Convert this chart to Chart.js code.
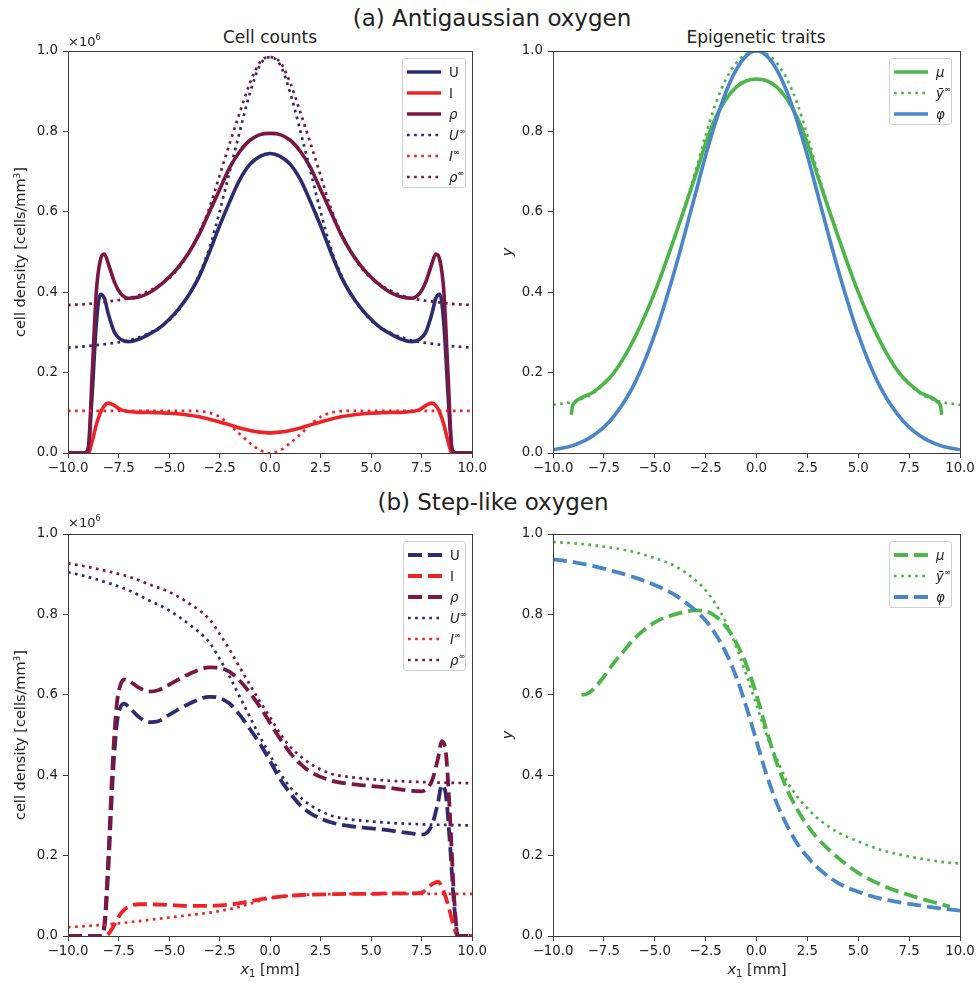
<!DOCTYPE html>
<html lang="en">
<head>
<meta charset="utf-8">
<title>Antigaussian and step-like oxygen</title>
<script src="https://cdn.jsdelivr.net/npm/chart.js@4.4.1/dist/chart.umd.min.js"></script>
<style>
  body { margin: 0; background: #fff; font-family: "DejaVu Sans", sans-serif; color: #222; }
  #page { position: relative; width: 980px; height: 986px; overflow: hidden; }
  canvas { position: absolute; }
  .txt { position: absolute; white-space: nowrap; transform: translate(-50%, -50%); }
  .suptitle { font-size: 23px; }
  .title { font-size: 17px; }
  .lab { font-size: 14.5px; }
  .rot { transform: translate(-50%, -50%) rotate(-90deg); }
  .mult { position: absolute; font-size: 13px; transform: translate(0, -50%); }
  .mult sup, .legend sup { font-size: 8px; }
  .legend { position: absolute; border: 1px solid #d0d0d0; border-radius: 3px; background: rgba(255,255,255,0.85); box-sizing: border-box; }
  .legend .row { position: absolute; left: 0; height: 20px; width: 100%; }
  .legend svg { position: absolute; left: 4px; top: 0; }
  .legend span { position: absolute; left: 46px; top: 50%; transform: translateY(-50%); font-size: 13.3px; }
</style>
</head>
<body>
<div id="page">
  <div class="txt suptitle" style="left:492px; top:18px;">(a) Antigaussian oxygen</div>
  <div class="txt suptitle" style="left:493px; top:502px;">(b) Step-like oxygen</div>
  <div class="txt title" style="left:270px; top:37px;">Cell counts</div>
  <div class="txt title" style="left:756px; top:37px;">Epigenetic traits</div>

  <canvas id="cA" width="490" height="460" style="left:0; top:30px;"></canvas>
  <canvas id="cB" width="490" height="460" style="left:490px; top:30px;"></canvas>
  <canvas id="cC" width="490" height="474" style="left:0; top:512px;"></canvas>
  <canvas id="cD" width="490" height="474" style="left:490px; top:512px;"></canvas>

  <div class="mult" style="left:68px; top:41px;">×10<sup>6</sup></div>
  <div class="mult" style="left:68px; top:522px;">×10<sup>6</sup></div>
  <div class="txt lab rot" style="left:20px; top:252px;">cell density [cells/mm<sup style="font-size:9px">3</sup>]</div>
  <div class="txt lab rot" style="left:20px; top:735px;">cell density [cells/mm<sup style="font-size:9px">3</sup>]</div>
  <div class="txt lab rot" style="left:507px; top:252px;"><i>y</i></div>
  <div class="txt lab rot" style="left:507px; top:735px;"><i>y</i></div>
  <div class="txt lab" style="left:270px; top:970px;"><i>x</i><sub style="font-size:10px">1</sub> [mm]</div>
  <div class="txt lab" style="left:757px; top:970px;"><i>x</i><sub style="font-size:10px">1</sub> [mm]</div>
</div>
<script>
// ticks
const xTicks = [-10, -7.5, -5, -2.5, 0, 2.5, 5, 7.5, 10];
const yTicks = [0, 0.2, 0.4, 0.6, 0.8, 1.0];

// (a) antigaussian, cell counts
const aX = [-10, -9.2, -9.0, -8.8, -8.6, -8.4, -8.2, -8.0, -7.7, -7.4, -7.0, -6.5, -6.0, -5.5, -5.0, -4.5, -4.0, -3.5, -3.0, -2.5, -2.0, -1.5, -1.0, -0.5, 0,
            0.5, 1.0, 1.5, 2.0, 2.5, 3.0, 3.5, 4.0, 4.5, 5.0, 5.5, 6.0, 6.5, 7.0, 7.4, 7.7, 8.0, 8.2, 8.4, 8.6, 8.8, 9.0, 9.2, 10];
const aU = [0, 0, 0.01, 0.15, 0.32, 0.395, 0.385, 0.345, 0.30, 0.283, 0.277, 0.283, 0.295, 0.31, 0.332, 0.36, 0.395, 0.44, 0.50, 0.565, 0.625, 0.68, 0.718, 0.738, 0.745,
            0.738, 0.718, 0.68, 0.625, 0.565, 0.50, 0.44, 0.395, 0.36, 0.332, 0.31, 0.295, 0.283, 0.277, 0.283, 0.30, 0.345, 0.385, 0.395, 0.32, 0.15, 0.01, 0, 0];
const aI = [0, 0, 0, 0.03, 0.07, 0.10, 0.118, 0.124, 0.118, 0.108, 0.103, 0.101, 0.101, 0.100, 0.099, 0.097, 0.094, 0.090, 0.084, 0.077, 0.070, 0.062, 0.056, 0.052, 0.050,
            0.052, 0.056, 0.062, 0.070, 0.077, 0.084, 0.090, 0.094, 0.097, 0.099, 0.100, 0.101, 0.101, 0.103, 0.108, 0.118, 0.124, 0.118, 0.10, 0.07, 0.03, 0, 0, 0];
const aRho = [0, 0, 0.01, 0.2, 0.4, 0.48, 0.495, 0.47, 0.425, 0.397, 0.385, 0.388, 0.398, 0.415, 0.437, 0.465, 0.50, 0.545, 0.60, 0.655, 0.71, 0.75, 0.778, 0.792, 0.795,
              0.792, 0.778, 0.75, 0.71, 0.655, 0.60, 0.545, 0.50, 0.465, 0.437, 0.415, 0.398, 0.388, 0.385, 0.397, 0.425, 0.47, 0.495, 0.48, 0.4, 0.2, 0.01, 0, 0];
const aXinf = [-10, -9, -8, -7, -6, -5, -4.5, -4, -3.5, -3, -2.5, -2, -1.5, -1, -0.5, 0, 0.5, 1, 1.5, 2, 2.5, 3, 3.5, 4, 4.5, 5, 6, 7, 8, 9, 10];
const aUinf = [0.262, 0.266, 0.272, 0.28, 0.298, 0.33, 0.358, 0.395, 0.445, 0.51, 0.60, 0.70, 0.80, 0.895, 0.965, 0.985,
               0.965, 0.895, 0.80, 0.70, 0.60, 0.51, 0.445, 0.395, 0.358, 0.33, 0.298, 0.28, 0.272, 0.266, 0.262];
const aIinf = [0.105, 0.105, 0.105, 0.105, 0.105, 0.105, 0.105, 0.105, 0.104, 0.1, 0.09, 0.07, 0.047, 0.025, 0.007, 0.0,
               0.007, 0.025, 0.047, 0.07, 0.09, 0.1, 0.104, 0.105, 0.105, 0.105, 0.105, 0.105, 0.105, 0.105, 0.105];
const aRhoinf = [0.368, 0.371, 0.377, 0.385, 0.403, 0.435, 0.462, 0.5, 0.549, 0.61, 0.69, 0.77, 0.847, 0.92, 0.972, 0.985,
                 0.972, 0.92, 0.847, 0.77, 0.69, 0.61, 0.549, 0.5, 0.462, 0.435, 0.403, 0.385, 0.377, 0.371, 0.368];

// (a) antigaussian, traits
const aTX = [-10, -9, -8, -7, -6, -5, -4, -3, -2.5, -2, -1.5, -1, -0.5, 0, 0.5, 1, 1.5, 2, 2.5, 3, 4, 5, 6, 7, 8, 9, 10];
const aPhi = [0.008, 0.019, 0.044, 0.092, 0.172, 0.295, 0.458, 0.645, 0.74, 0.825, 0.898, 0.953, 0.988, 1.0,
              0.988, 0.953, 0.898, 0.825, 0.74, 0.645, 0.458, 0.295, 0.172, 0.092, 0.044, 0.019, 0.008];
const aYinf = [0.12, 0.128, 0.15, 0.2, 0.285, 0.40, 0.54, 0.70, 0.79, 0.87, 0.93, 0.97, 0.993, 1.0,
               0.993, 0.97, 0.93, 0.87, 0.79, 0.70, 0.54, 0.40, 0.285, 0.2, 0.15, 0.128, 0.12];
const aMuX = [-9.1, -9.05, -8.9, -8, -7, -6, -5, -4, -3, -2.5, -2, -1.5, -1, -0.5, 0, 0.5, 1, 1.5, 2, 2.5, 3, 4, 5, 6, 7, 8, 8.9, 9.05, 9.1];
const aMu = [0.095, 0.115, 0.127, 0.152, 0.2, 0.285, 0.40, 0.54, 0.69, 0.77, 0.835, 0.88, 0.91, 0.926, 0.93,
             0.926, 0.91, 0.88, 0.835, 0.77, 0.69, 0.54, 0.40, 0.285, 0.2, 0.152, 0.127, 0.115, 0.095];

// (b) step-like, cell counts
const bX = [-10, -8.4, -8.2, -8.0, -7.8, -7.6, -7.4, -7.2, -7.0, -6.5, -6.0, -5.5, -5.0, -4.0, -3.0, -2.5, -2.0, -1.5, -1.0, -0.5, 0,
            0.5, 1.0, 1.5, 2.0, 3.0, 4.0, 5.0, 6.0, 7.0, 7.5, 8.0, 8.3, 8.5, 8.7, 8.9, 9.1, 9.3, 10];
const bU = [0, 0, 0.02, 0.17, 0.38, 0.52, 0.57, 0.578, 0.57, 0.545, 0.532, 0.535, 0.55, 0.578, 0.595, 0.592, 0.578, 0.55, 0.515, 0.478, 0.435,
            0.39, 0.355, 0.325, 0.305, 0.283, 0.273, 0.268, 0.262, 0.255, 0.252, 0.275, 0.33, 0.375, 0.35, 0.23, 0.08, 0, 0];
const bI = [0, 0, 0, 0.005, 0.02, 0.038, 0.055, 0.066, 0.073, 0.079, 0.079, 0.078, 0.077, 0.075, 0.075, 0.076, 0.078, 0.082, 0.086, 0.091, 0.095,
            0.098, 0.1, 0.102, 0.103, 0.104, 0.105, 0.105, 0.106, 0.106, 0.108, 0.128, 0.135, 0.122, 0.095, 0.06, 0.02, 0, 0];
const bRho = [0, 0, 0.03, 0.2, 0.42, 0.57, 0.625, 0.638, 0.635, 0.618, 0.608, 0.612, 0.625, 0.652, 0.668, 0.667, 0.657, 0.635, 0.605, 0.57, 0.53,
              0.49, 0.455, 0.428, 0.408, 0.387, 0.378, 0.373, 0.368, 0.361, 0.36, 0.385, 0.44, 0.485, 0.455, 0.3, 0.1, 0, 0];
const bXinf = [-10, -9, -8, -7, -6, -5, -4, -3, -2.5, -2, -1.5, -1, -0.5, 0, 0.5, 1, 1.5, 2, 3, 4, 5, 6, 7, 8, 9, 10];
const bUinf = [0.905, 0.893, 0.878, 0.86, 0.835, 0.81, 0.775, 0.73, 0.69, 0.645, 0.595, 0.545, 0.495, 0.45, 0.405, 0.37, 0.345, 0.325,
               0.3, 0.29, 0.285, 0.281, 0.279, 0.277, 0.276, 0.275];
const bIinf = [0.022, 0.025, 0.029, 0.034, 0.04, 0.046, 0.052, 0.058, 0.062, 0.067, 0.073, 0.08, 0.088, 0.094, 0.098, 0.1, 0.102, 0.103,
               0.104, 0.105, 0.105, 0.105, 0.105, 0.105, 0.105, 0.105];
const bRhoinf = [0.927, 0.918, 0.907, 0.894, 0.875, 0.856, 0.827, 0.788, 0.752, 0.712, 0.668, 0.625, 0.583, 0.544, 0.503, 0.47, 0.447, 0.428,
                 0.404, 0.395, 0.39, 0.386, 0.384, 0.382, 0.381, 0.38];

// (b) step-like, traits
const bTX = [-10, -9, -8, -7, -6, -5, -4, -3, -2.5, -2, -1.5, -1, -0.5, 0, 0.5, 1, 1.5, 2, 2.5, 3, 4, 5, 6, 7, 8, 9, 10];
const bPhi = [0.937, 0.93, 0.92, 0.907, 0.892, 0.873, 0.848, 0.81, 0.785, 0.75, 0.705, 0.645, 0.57, 0.485, 0.40, 0.33, 0.275, 0.23,
              0.197, 0.17, 0.132, 0.11, 0.094, 0.084, 0.076, 0.069, 0.063];
const bYinf = [0.98, 0.977, 0.972, 0.965, 0.955, 0.94, 0.92, 0.885, 0.86, 0.825, 0.78, 0.72, 0.65, 0.575, 0.5, 0.44, 0.385, 0.347,
               0.318, 0.293, 0.258, 0.235, 0.216, 0.203, 0.193, 0.185, 0.18];
const bMuX = [-8.6, -8.3, -8, -7.5, -7, -6.5, -6, -5, -4, -3, -2.5, -2, -1.5, -1, -0.5, 0, 0.5, 1, 1.5, 2, 2.5, 3, 4, 5, 6, 7, 8, 9, 9.5];
const bMu = [0.6, 0.603, 0.615, 0.645, 0.68, 0.71, 0.74, 0.78, 0.80, 0.81, 0.808, 0.795, 0.77, 0.73, 0.675, 0.6, 0.51, 0.43, 0.365, 0.315,
             0.275, 0.243, 0.195, 0.157, 0.13, 0.11, 0.094, 0.08, 0.073];

const C = { U: '#2d2c6e', I: '#ee2328', rho: '#7a1742', mu: '#4cb648', phi: '#4a86c8' };
const STY = {
  solid:  { borderWidth: 3.6, borderDash: [] },
  dotted: { borderWidth: 2.7, borderDash: [2.7, 4.4] },
  dashed: { borderWidth: 3.8, borderDash: [14, 6] }
};

function ds(label, xs, ys, color, style, i, n) {
  return Object.assign({
    label: label,
    data: xs.map((x, k) => ({ x: x, y: ys[k] })),
    borderColor: color,
    pointRadius: 0,
    fill: false,
    cubicInterpolationMode: 'monotone',
    borderCapStyle: 'butt',
    borderJoinStyle: 'round',
    order: n - i
  }, STY[style]);
}

const frame = {
  id: 'frame',
  afterDatasetsDraw(chart) {
    const a = chart.chartArea, ctx = chart.ctx;
    ctx.save();
    ctx.strokeStyle = '#3a3a3a';
    ctx.lineWidth = 1;
    ctx.setLineDash([]);
    ctx.strokeRect(Math.round(a.left) + 0.5, Math.round(a.top) + 0.5, Math.round(a.right - a.left), Math.round(a.bottom - a.top));
    ctx.restore();
  }
};

const fmt = v => Number(v).toFixed(1).replace('-', '\u2212');

function makeChart(id, items, pad, yW, xH) {
  const n = items.length;
  new Chart(document.getElementById(id), {
    type: 'line',
    data: { datasets: items.map((it, i) => ds(it[0], it[1], it[2], it[3], it[4], i, n)) },
    options: {
      responsive: false,
      animation: false,
      devicePixelRatio: 1,
      layout: { padding: pad },
      plugins: { legend: { display: false }, tooltip: { enabled: false }, title: { display: false } },
      scales: {
        x: {
          type: 'linear', min: -10, max: 10,
          afterBuildTicks: ax => { ax.ticks = xTicks.map(v => ({ value: v })); },
          afterFit: s => { s.height = xH; },
          ticks: { callback: fmt, maxRotation: 0, autoSkip: false, padding: 3, color: '#222', font: { family: 'DejaVu Sans', size: 13.3 } },
          grid: { drawOnChartArea: false, drawTicks: true, tickLength: 5, color: '#3a3a3a' },
          border: { display: true, color: '#3a3a3a' }
        },
        y: {
          type: 'linear', min: 0, max: 1,
          afterBuildTicks: ax => { ax.ticks = yTicks.map(v => ({ value: v })); },
          afterFit: s => { s.width = yW; },
          ticks: { callback: fmt, padding: 5, color: '#222', font: { family: 'DejaVu Sans', size: 13.3 } },
          grid: { drawOnChartArea: false, drawTicks: true, tickLength: 5, color: '#3a3a3a' },
          border: { display: true, color: '#3a3a3a' }
        }
      }
    },
    plugins: [frame]
  });
}

makeChart('cA', [
  ['U', aX, aU, C.U, 'solid'],
  ['I', aX, aI, C.I, 'solid'],
  ['rho', aX, aRho, C.rho, 'solid'],
  ['U_inf', aXinf, aUinf, C.U, 'dotted'],
  ['I_inf', aXinf, aIinf, C.I, 'dotted'],
  ['rho_inf', aXinf, aRhoinf, C.rho, 'dotted']
], { top: 21, right: 17, left: 0, bottom: 0 }, 68, 37);

makeChart('cB', [
  ['mu', aMuX, aMu, C.mu, 'solid'],
  ['y_inf', aTX, aYinf, C.mu, 'dotted'],
  ['phi', aTX, aPhi, C.phi, 'solid']
], { top: 21, right: 20, left: 0, bottom: 0 }, 63, 37);

makeChart('cC', [
  ['U', bX, bU, C.U, 'dashed'],
  ['I', bX, bI, C.I, 'dashed'],
  ['rho', bX, bRho, C.rho, 'dashed'],
  ['U_inf', bXinf, bUinf, C.U, 'dotted'],
  ['I_inf', bXinf, bIinf, C.I, 'dotted'],
  ['rho_inf', bXinf, bRhoinf, C.rho, 'dotted']
], { top: 22, right: 17, left: 0, bottom: 0 }, 68, 50);

makeChart('cD', [
  ['mu', bMuX, bMu, C.mu, 'dashed'],
  ['y_inf', bTX, bYinf, C.mu, 'dotted'],
  ['phi', bTX, bPhi, C.phi, 'dashed']
], { top: 22, right: 20, left: 0, bottom: 0 }, 63, 50);

// legends (html, so labels stay real text)
const page = document.getElementById('page');
function legend(x, y, w, rows) {
  const box = document.createElement('div');
  box.className = 'legend';
  box.style.left = x + 'px';
  box.style.top = y + 'px';
  box.style.width = w + 'px';
  box.style.height = (rows.length * 21 + 4) + 'px';
  rows.forEach((r, i) => {
    const row = document.createElement('div');
    row.className = 'row';
    row.style.top = (3 + i * 21) + 'px';
    const s = STY[r[2]];
    row.innerHTML = '<svg width="36" height="20"><line x1="0" y1="10" x2="34" y2="10" stroke="' + r[1] +
      '" stroke-width="' + s.borderWidth + '" stroke-dasharray="' + (s.borderDash.length ? s.borderDash.join(' ') : 'none') +
      '"/></svg><span>' + r[0] + '</span>';
    box.appendChild(row);
  });
  page.appendChild(box);
}
const cellRows = st => [
  ['U', C.U, st], ['I', C.I, st], ['<i>ρ</i>', C.rho, st],
  ['<i>U</i><sup>∞</sup>', C.U, 'dotted'], ['<i>I</i><sup>∞</sup>', C.I, 'dotted'], ['<i>ρ</i><sup>∞</sup>', C.rho, 'dotted']
];
const traitRows = st => [
  ['<i>μ</i>', C.mu, st], ['<i>ȳ</i><sup>∞</sup>', C.mu, 'dotted'], ['<i>φ</i>', C.phi, st]
];
legend(402, 58, 64, cellRows('solid'));
legend(889, 58, 63, traitRows('solid'));
legend(403, 541, 63, cellRows('dashed'));
legend(889, 541, 63, traitRows('dashed'));
</script>
</body>
</html>
